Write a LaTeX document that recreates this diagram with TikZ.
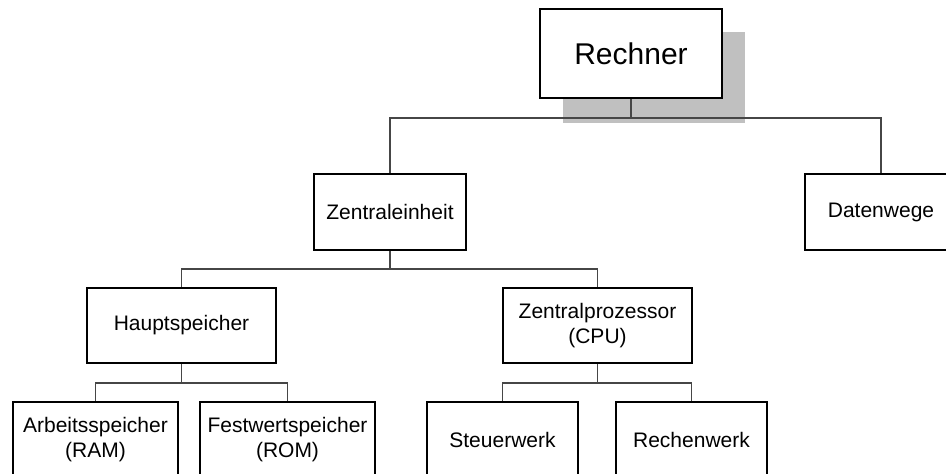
\documentclass[tikz,border=0pt]{standalone}
\usepackage{fontspec}
\setmainfont{Liberation Sans}
\usetikzlibrary{calc}

\definecolor{shadowgray}{RGB}{192,192,192}
\definecolor{wiregray}{RGB}{70,70,70}

\tikzset{
  unit/.style={draw=black, fill=white, line width=2.4pt, rectangle,
               inner sep=0pt, align=center,
               font=\fontsize{21}{25}\selectfont},
  topunit/.style={unit, font=\fontsize{30}{36}\selectfont},
  wire/.style={draw=wiregray, line width=1.1pt}
}

\begin{document}
\begin{tikzpicture}[x=1pt, y=-1pt]
  \useasboundingbox (0,0) rectangle (946,474);
  \clip (0,0) rectangle (946,474);

  % shadow behind the root box
  \fill[shadowgray] (563,32) rectangle (745,122.5);

  % root
  \node[topunit, minimum width=182pt, minimum height=89pt] (rech) at (631,53.5) {Rechner};

  % second level
  \node[unit, minimum width=152pt, minimum height=76pt] (zent) at (390,212) {Zentraleinheit};
  \node[unit, minimum width=152pt, minimum height=76pt] (dat)  at (881,212) {Datenwege};

  % third level
  \node[unit, minimum width=189pt, minimum height=75pt] (haupt) at (181.5,325.5) {Hauptspeicher};
  \node[unit, minimum width=189pt, minimum height=75pt] (cpu)   at (597.5,325.5) {Zentralprozessor\\(CPU)};

  % fourth level
  \node[unit, minimum width=165pt, minimum height=76pt] (ram)  at (95.5,440)  {Arbeitsspeicher\\(RAM)};
  \node[unit, minimum width=175pt, minimum height=76pt] (rom)  at (287.5,440) {Festwertspeicher\\(ROM)};
  \node[unit, minimum width=151pt, minimum height=76pt] (steu) at (502.5,440) {Steuerwerk};
  \node[unit, minimum width=151pt, minimum height=76pt] (rechw) at (691.5,440) {Rechenwerk};

  % bus junctions
  \coordinate (busA) at (631,118);
  \coordinate (busB) at (390,269);
  \coordinate (busC) at (181.5,383);
  \coordinate (busD) at (597.5,383);

  % connectors
  \draw[wire] (rech.south) -- (busA);
  \draw[wire] (zent.north) |- (busA) -| (dat.north);

  \draw[wire] (zent.south) -- (busB);
  \draw[wire] (haupt.north) |- (busB) -| (cpu.north);

  \draw[wire] (haupt.south) -- (busC);
  \draw[wire] (ram.north) |- (busC) -| (rom.north);

  \draw[wire] (cpu.south) -- (busD);
  \draw[wire] (steu.north) |- (busD) -| (rechw.north);
\end{tikzpicture}
\end{document}
